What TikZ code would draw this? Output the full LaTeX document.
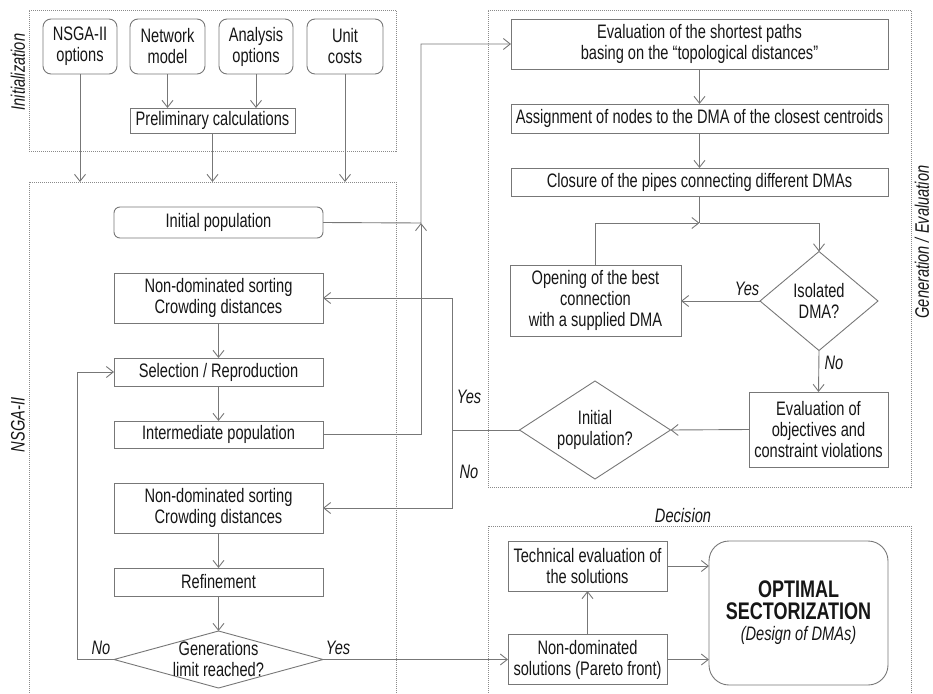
\documentclass[tikz,border=0pt]{standalone}
\usepackage{fontspec}
\setmainfont[FakeStretch=0.75]{Liberation Sans}
\usetikzlibrary{arrows.meta,shapes.geometric}
\definecolor{edge}{HTML}{777777}
\definecolor{grpline}{HTML}{8A8A8A}
\definecolor{txt}{HTML}{161616}

\tikzset{
  base/.style={font=\fontsize{19.5}{21}\selectfont, text=txt},
  box/.style={base, draw=edge, line width=0.9pt, inner sep=0pt, outer sep=0pt, align=center},
  rbox/.style={box, rounded corners=8pt},
  dia/.style={base, draw=edge, line width=0.9pt, shape=diamond, inner sep=0pt, outer sep=0pt},
  grp/.style={draw=grpline, line width=0.7pt, dash pattern=on 1pt off 1pt, inner sep=0pt, outer sep=0pt},
  lbl/.style={base, font=\fontsize{19.5}{21}\selectfont\itshape, inner sep=0pt},
  conn/.style={draw=edge, line width=0.9pt},
  arr/.style={conn, -{Straight Barb[length=7pt,width=11pt]}},
}

\begin{document}
\begin{tikzpicture}[x=1pt,y=-1pt]
\useasboundingbox (0,0) rectangle (933,693);
\clip (0,0) rectangle (933,693);

% ---------- group frames ----------
\node[grp, minimum width=367, minimum height=141] (initbox) at (212.5,80.5) {};
\node[grp, minimum width=367, minimum height=538] (nsgabox) at (212.5,451) {};
\node[grp, minimum width=423, minimum height=477] (genbox) at (699.5,248.5) {};
\node[grp, minimum width=423, minimum height=194] (decbox) at (699.5,623) {};

\node[lbl, rotate=90] (tInit) at (18,72) {Initialization};
\node[lbl, rotate=90] (tNsga) at (18,425) {NSGA-II};
\node[lbl, rotate=90] (tGen) at (922,242) {Generation / Evaluation};
\node[lbl] (tDec) at (683,516) {Decision};

% ---------- initialization ----------
\node[rbox, minimum width=74, minimum height=55] (opts) at (80,46.5) {NSGA-II\\options};
\node[rbox, minimum width=75, minimum height=55] (net) at (167.5,46.5) {Network\\model};
\node[rbox, minimum width=74, minimum height=55] (ana) at (256,46.5) {Analysis\\options};
\node[rbox, minimum width=76, minimum height=55] (unit) at (345,46.5) {Unit\\costs};
\node[box, minimum width=165, minimum height=25] (prelim) at (212.5,120.5) {Preliminary calculations};

\draw[arr] (net.south) -- (net.south |- prelim.north);
\draw[arr] (ana.south) -- (ana.south |- prelim.north);
\draw[arr] (opts.south) -- (opts.south |- nsgabox.north);
\draw[arr] (prelim.south) -- (prelim.south |- nsgabox.north);
\draw[arr] (unit.south) -- (unit.south |- nsgabox.north);

% ---------- NSGA-II ----------
\node[box, rounded corners=6pt, minimum width=209, minimum height=31] (initpop) at (218.5,222.5) {Initial population};
\node[box, minimum width=209, minimum height=50] (nds1) at (218.5,298) {Non-dominated sorting\\Crowding distances};
\node[box, minimum width=209, minimum height=28] (sel) at (218.5,372) {Selection / Reproduction};
\node[box, minimum width=209, minimum height=27] (inter) at (218.5,434.5) {Intermediate population};
\node[box, minimum width=209, minimum height=50] (nds2) at (218.5,508) {Non-dominated sorting\\Crowding distances};
\node[box, minimum width=209, minimum height=28] (refine) at (218.5,582) {Refinement};
\node[dia, minimum width=209, minimum height=57,
      label={[base, align=center]center:Generations\\limit reached?}] (genq) at (218.5,659.5) {};

\draw[arr] (nds1) -- (sel);
\draw[arr] (sel) -- (inter);
\draw[arr] (nds2) -- (refine);
\draw[arr] (refine) -- (genq);

% ---------- generation / evaluation ----------
\node[box, minimum width=377, minimum height=50] (paths) at (699.5,44) {Evaluation of the shortest paths\\basing on the “topological distances”};
\node[box, minimum width=377, minimum height=29] (assign) at (699.5,118.5) {Assignment of nodes to the DMA of the closest centroids};
\node[box, minimum width=377, minimum height=28] (closure) at (699.5,182) {Closure of the pipes connecting different DMAs};
\node[box, minimum width=171, minimum height=71] (opening) at (595.5,300.5) {Opening of the best\\connection\\with a supplied DMA};
\node[dia, minimum width=118, minimum height=99,
      label={[base, align=center]center:Isolated\\DMA?}] (iso) at (819,301) {};
\node[box, minimum width=139, minimum height=75] (evalobj) at (818.5,429.5) {Evaluation of\\objectives and\\constraint violations};
\node[dia, minimum width=151, minimum height=98,
      label={[base, align=center]center:Initial\\population?}] (initq) at (595,430) {};

\coordinate (merge) at (699.5,223);
\coordinate (feed) at (421,223);
\coordinate (split) at (452,430);

\draw[arr] (paths) -- (assign);
\draw[arr] (assign) -- (closure);
\draw[conn] (closure.south) -- (merge);
\draw[arr] (merge) -| (iso.north);
\draw[arr] (opening.north) |- (merge);
\draw[arr] (iso.west) -- (iso.west -| opening.east);
\draw[arr] (iso.south) -- (evalobj.north);
\draw[arr] (evalobj.west) -- (initq.east);

\node[lbl] (yIso) at (747,289) {Yes};
\node[lbl] (nIso) at (834,363) {No};

% ---------- links between the two loops ----------
\draw[arr] (initpop.east) -- (feed) |- (paths.west);
\draw[arr] (inter.east) -| (feed);
\draw[conn] (initq.west) -- (split);
\draw[arr] (split) |- (nds1.east);
\draw[arr] (split) |- (nds2.east);
\node[lbl] (ySplit) at (469,397) {Yes};
\node[lbl] (nSplit) at (469,472) {No};

% ---------- decision ----------
\node[box, minimum width=159, minimum height=50] (tech) at (587.5,566) {Technical evaluation of\\the solutions};
\node[box, minimum width=159, minimum height=50] (ndsol) at (587.5,659.5) {Non-dominated\\solutions (Pareto front)};
\node[box, rounded corners=20pt, minimum width=179, minimum height=144] (optimal) at (798.5,613)
  {{\fontsize{24}{26}\selectfont\bfseries OPTIMAL}\\[1pt]{\fontsize{24}{26}\selectfont\bfseries SECTORIZATION}\\{\itshape (Design of DMAs)}};

\draw[arr] (ndsol) -- (tech);
\draw[arr] (tech.east) -- (tech.east -| optimal.west);
\draw[arr] (ndsol.east) -- (ndsol.east -| optimal.west);

\draw[arr] (genq.east) -- (ndsol.west);
\draw[arr] (genq.west) -- (77,659.5) |- (sel.west);
\node[lbl] (nGen) at (101,648) {No};
\node[lbl] (yGen) at (338,648) {Yes};
\end{tikzpicture}
\end{document}
